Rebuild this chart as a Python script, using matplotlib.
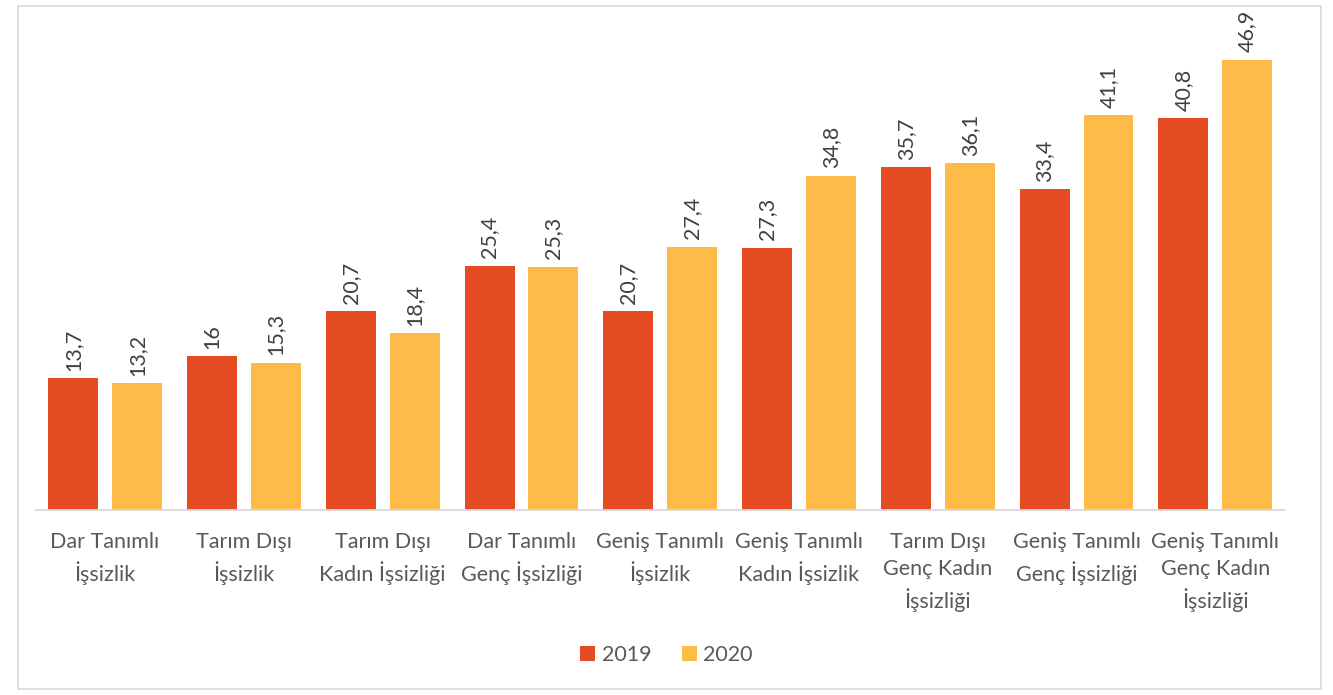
import matplotlib
matplotlib.use("Agg")
import matplotlib.pyplot as plt
from matplotlib.patches import Rectangle
import numpy as np

categories = ["Dar Tanımlı\nİşsizlik", "Tarım Dışı\nİşsizlik", "Tarım Dışı\nKadın İşsizliği",
              "Dar Tanımlı\nGenç İşsizliği", "Geniş Tanımlı\nİşsizlik", "Geniş Tanımlı\nKadın İşsizlik",
              "Tarım Dışı\nGenç Kadın\nİşsizliği", "Geniş Tanımlı\nGenç İşsizliği", "Geniş Tanımlı\nGenç Kadın\nİşsizliği"]
v2019 = [13.7, 16, 20.7, 25.4, 20.7, 27.3, 35.7, 33.4, 40.8]
v2020 = [13.2, 15.3, 18.4, 25.3, 27.4, 34.8, 36.1, 41.1, 46.9]
series_names = ["2019", "2020"]

plt.rcParams['font.family'] = ['Lato', 'DejaVu Sans']
c19 = "#E64C24"
c20 = "#FFBB47"
txt = "#595959"

fig = plt.figure(figsize=(13.33, 6.95), dpi=100)
fig.patches.append(Rectangle((0.0135, 0.008), 0.9775, 0.984, transform=fig.transFigure,
                             fill=False, edgecolor="#D9D9D9", linewidth=1.2))
ax = fig.add_axes([0.0268, 0.2662, 0.937, 0.7183])
x = np.arange(len(categories))
w = 0.36
off = 0.23
b1 = ax.bar(x - off, v2019, w, color=c19, label=series_names[0])
b2 = ax.bar(x + off, v2020, w, color=c20, label=series_names[1])

def fmt(v):
    s = ("%g" % v).replace(".", ",")
    return s

for bars, vals in ((b1, v2019), (b2, v2020)):
    for b, v in zip(bars, vals):
        ax.text(b.get_x() + b.get_width() / 2, v + 0.8, fmt(v), rotation=90,
                ha="center", va="bottom", fontsize=15.5, color="#404040")

ax.set_xlim(-0.5, len(categories) - 0.5)
ax.set_ylim(0, 52)
ax.set_xticks(x)
ax.set_xticklabels(categories, fontsize=15.5, color=txt, linespacing=1.45, va="top")
ax.tick_params(axis="x", length=0, pad=16)
ax.set_yticks([])
for s in ["top", "right", "left"]:
    ax.spines[s].set_visible(False)
ax.spines["bottom"].set_color("#D9D9D9")
ax.spines["bottom"].set_linewidth(1.3)

fig.legend(handles=[b1, b2], labels=series_names, loc="center", bbox_to_anchor=(0.5, 0.058),
           ncol=2, frameon=False, fontsize=15.5, labelcolor=txt, handlelength=0.7,
           handleheight=0.7, handletextpad=0.3, columnspacing=1.4)

fig.savefig("out.png", dpi=100)
